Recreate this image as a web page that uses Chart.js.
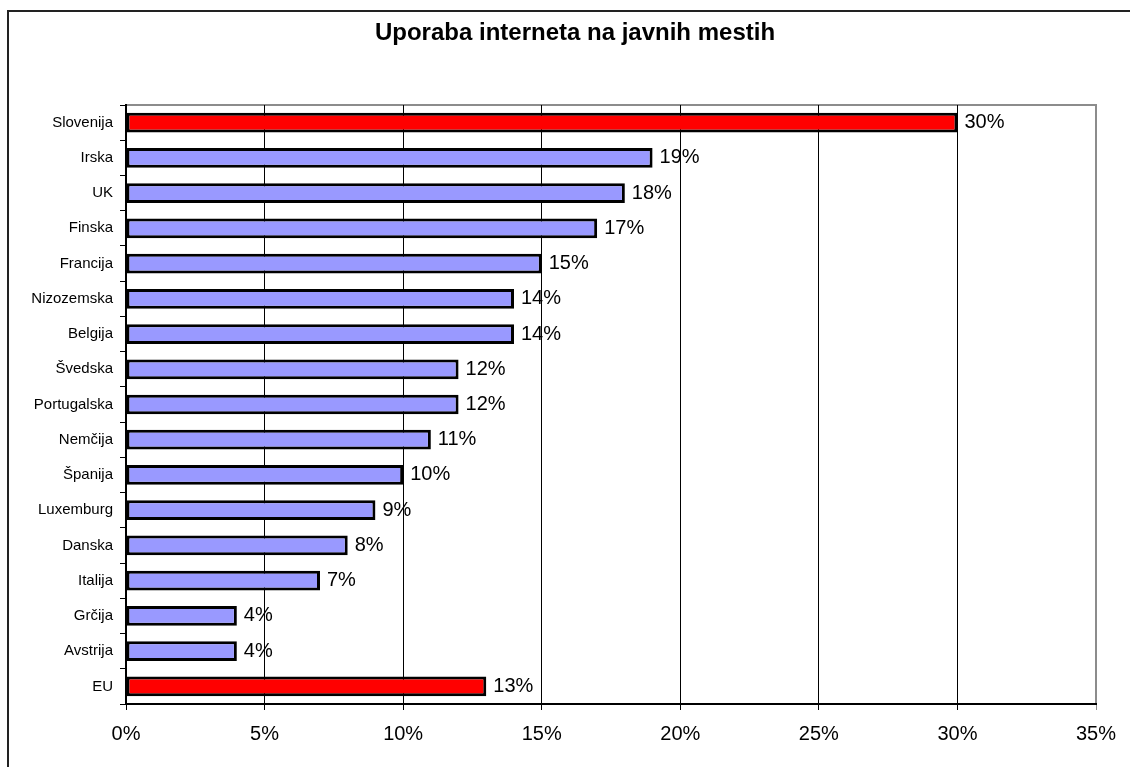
<!DOCTYPE html>
<html>
<head>
<meta charset="utf-8">
<script src="https://cdn.jsdelivr.net/npm/chart.js@4"></script>
<style>
  html, body { margin: 0; padding: 0; background: #fff; overflow: hidden; }
  #frame { position: absolute; left: 7px; top: 10px; width: 1300px; height: 900px; border: 2px solid #222; }
  #wrap { position: absolute; left: 0; top: 0; width: 1130px; height: 767px; }
</style>
</head>
<body>
<div id="frame"></div>
<div id="wrap"><canvas id="chartBar"></canvas></div>
<script>
const titleText = `Uporaba interneta na javnih mestih`;
const labelsCountry = [`Slovenija`, `Irska`, `UK`, `Finska`, `Francija`, `Nizozemska`, `Belgija`, `Švedska`, `Portugalska`, `Nemčija`, `Španija`, `Luxemburg`, `Danska`, `Italija`, `Grčija`, `Avstrija`, `EU`];
const valuesPercent = [30, 19, 18, 17, 15, 14, 14, 12, 12, 11, 10, 9, 8, 7, 4, 4, 13];
const highlighted = [`Slovenija`, `EU`];
const tickValues = [0, 5, 10, 15, 20, 25, 30, 35];

const colorHighlight = `#FF0000`;
const colorBar = `#9999FF`;
const fontFamily = `"Liberation Sans", Arial, sans-serif`;

// gray frame on top and right of the plot, axes are drawn over it
const plotFrame = {
  id: `plotFrame`,
  beforeDraw(chart) {
    const { ctx, chartArea } = chart;
    ctx.save();
    ctx.strokeStyle = `#8c8c8c`;
    ctx.lineWidth = 2;
    ctx.beginPath();
    ctx.moveTo(chartArea.left, chartArea.top);
    ctx.lineTo(chartArea.right, chartArea.top);
    ctx.lineTo(chartArea.right, chartArea.bottom);
    ctx.stroke();
    ctx.restore();
  }
};

// value labels at the end of each bar
const barValues = {
  id: `barValues`,
  afterDatasetsDraw(chart) {
    const { ctx } = chart;
    const meta = chart.getDatasetMeta(0);
    ctx.save();
    ctx.font = `20px ${fontFamily}`;
    ctx.fillStyle = `#000`;
    ctx.textAlign = `left`;
    ctx.textBaseline = `middle`;
    meta.data.forEach((bar, i) => {
      ctx.fillText(`${valuesPercent[i]}%`, bar.x + 7, bar.y);
    });
    ctx.restore();
  }
};

const ctx = document.getElementById(`chartBar`).getContext(`2d`);
new Chart(ctx, {
  type: `bar`,
  data: {
    labels: labelsCountry,
    datasets: [
      {
        data: valuesPercent,
        backgroundColor: labelsCountry.map(l => highlighted.includes(l) ? colorHighlight : colorBar),
        borderColor: `#000`,
        borderWidth: 3,
        borderSkipped: false,
        categoryPercentage: 1,
        barPercentage: 0.56
      }
    ]
  },
  options: {
    indexAxis: `y`,
    responsive: true,
    maintainAspectRatio: false,
    animation: false,
    layout: { padding: { left: 20, right: 0, top: 0, bottom: 0 } },
    plugins: {
      legend: { display: false },
      tooltip: { enabled: false },
      title: {
        display: true,
        text: titleText,
        color: `#000`,
        font: { size: 24, weight: `bold`, family: fontFamily, lineHeight: 1.2 },
        padding: { top: 19, bottom: 57.2 }
      }
    },
    scales: {
      x: {
        min: 0,
        max: 35,
        afterBuildTicks: (scale) => { scale.ticks = tickValues.map(v => ({ value: v })); },
        afterFit: (scale) => { scale.height = 63; scale.paddingRight = 34; },
        border: { color: `#000`, width: 2 },
        grid: {
          color: (c) => c.tick && c.tick.value === 35 ? `#8c8c8c` : `#000`,
          lineWidth: 1,
          tickLength: 6,
          drawOnChartArea: true
        },
        ticks: {
          color: `#000`,
          padding: 12,
          font: { size: 20, family: fontFamily },
          callback: (v) => `${v}%`
        }
      },
      y: {
        afterFit: (scale) => { scale.width = 106; },
        border: { color: `#000`, width: 2 },
        grid: {
          offset: true,
          color: `#000`,
          drawOnChartArea: false,
          tickLength: 6
        },
        ticks: {
          color: `#000`,
          padding: 7,
          autoSkip: false,
          font: { size: 15, family: fontFamily }
        }
      }
    }
  },
  plugins: [plotFrame, barValues]
});
</script>
</body>
</html>
